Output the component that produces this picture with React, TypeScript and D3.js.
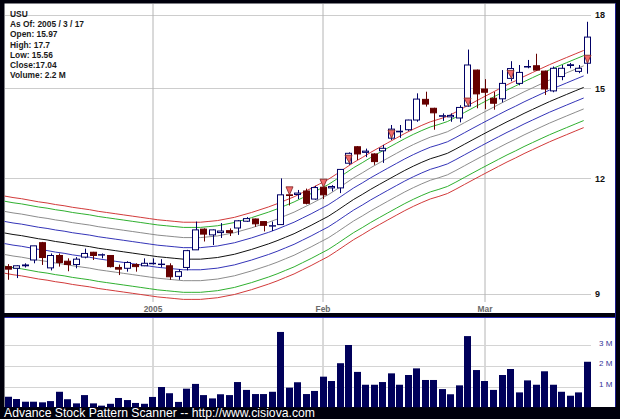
import React from "react";
import * as d3 from "d3";

const SYMBOL = "USU";
const DEC_2004_DAYS = [8, 9, 10, 13, 14, 15, 16, 17, 20, 21, 22, 23, 27, 28, 29, 30, 31];
const JAN_2005_DAYS = [3, 4, 5, 6, 7, 10, 11, 12, 13, 14, 18, 19, 20, 21, 24, 25, 26, 27, 28, 31];
const FEB_2005_DAYS = [1, 2, 3, 4, 7, 8, 9, 10, 11, 14, 15, 16, 17, 18, 22, 23, 24, 25, 28];
const MAR_2005_DAYS = [1, 2, 3, 4, 7, 8, 9, 10, 11, 14, 15, 16, 17];

const OPEN = [9.64, 9.60, 9.66, 9.80, 10.23, 9.61, 9.91, 9.77, 9.69, 9.87,
  9.99, 9.92, 9.91, 9.62, 9.60, 9.69, 9.66, 9.71, 9.69, 9.66,
  9.41, 9.62, 10.05, 10.58, 10.43, 10.49, 10.54, 10.61, 10.79, 10.85,
  10.78, 10.66, 10.70, 11.52, 11.53, 11.63, 11.40, 11.74, 11.72, 11.72,
  12.46, 12.98, 12.80, 12.75, 12.85, 13.26, 13.47, 13.54, 13.87, 14.60,
  14.28, 14.00, 13.98, 13.94, 14.36, 15.70, 14.98, 14.64, 14.62, 15.38,
  15.19, 15.82, 15.87, 15.66, 14.91, 15.45, 15.88, 15.65, 15.97];
const HIGH = [9.70, 9.67, 9.72, 10.15, 10.25, 9.96, 9.96, 9.84, 9.87, 10.08,
  10.00, 9.96, 9.92, 9.69, 9.77, 9.72, 9.84, 9.84, 9.82, 9.72,
  9.58, 10.05, 10.78, 10.60, 10.57, 10.74, 10.60, 10.82, 10.90, 10.86,
  10.79, 10.78, 12.00, 11.71, 11.66, 11.70, 11.78, 11.76, 11.80, 12.28,
  12.80, 13.00, 12.92, 12.77, 13.04, 13.70, 13.70, 13.88, 14.82, 14.88,
  14.30, 14.10, 14.10, 14.39, 16.52, 15.72, 15.35, 14.87, 15.70, 16.05,
  15.90, 16.10, 16.35, 15.68, 15.84, 15.90, 15.98, 15.90, 17.7];
const LOW = [9.33, 9.37, 9.62, 9.72, 9.68, 9.55, 9.64, 9.53, 9.60, 9.84,
  9.80, 9.84, 9.62, 9.44, 9.52, 9.52, 9.65, 9.69, 9.62, 9.33,
  9.33, 9.55, 10.05, 10.26, 10.17, 10.35, 10.40, 10.43, 10.77, 10.64,
  10.52, 10.53, 10.70, 11.22, 11.40, 11.25, 11.38, 11.40, 11.62, 11.57,
  12.41, 12.56, 12.65, 12.41, 12.47, 13.20, 13.27, 13.50, 13.81, 14.34,
  13.54, 13.84, 13.81, 13.79, 14.34, 14.28, 14.25, 14.23, 14.49, 15.27,
  15.12, 15.77, 15.68, 14.76, 14.86, 15.31, 15.77, 15.58, 15.56];
const CLOSE = [9.58, 9.66, 9.68, 10.15, 9.86, 9.91, 9.74, 9.69, 9.82, 9.96,
  9.91, 9.93, 9.64, 9.58, 9.74, 9.64, 9.72, 9.72, 9.70, 9.40,
  9.52, 10.03, 10.56, 10.45, 10.56, 10.53, 10.49, 10.80, 10.86, 10.72,
  10.68, 10.67, 11.52, 11.50, 11.57, 11.28, 11.73, 11.52, 11.76, 12.27,
  12.77, 12.75, 12.84, 12.51, 12.93, 13.56, 13.49, 13.87, 14.61, 14.43,
  14.12, 14.02, 14.03, 14.31, 15.90, 14.80, 14.86, 14.46, 15.19, 15.76,
  15.61, 15.84, 15.70, 14.98, 15.77, 15.77, 15.91, 15.77, 17.04];
const VOLUME_M = [0.51, 0.40, 0.27, 0.27, 0.24, 0.30, 0.75, 0.39, 0.19, 0.59,
  0.19, 0.08, 0.17, 0.45, 0.35, 0.21, 0.17, 0.50, 0.98, 0.68,
  0.26, 0.90, 1.13, 0.59, 0.43, 0.63, 0.59, 1.22, 0.84, 0.64,
  0.64, 0.75, 3.64, 0.95, 1.21, 0.64, 0.79, 1.48, 1.27, 2.13,
  3.01, 1.71, 1.09, 1.09, 1.22, 1.64, 1.09, 1.56, 1.88, 1.32,
  1.32, 0.88, 0.63, 1.06, 3.44, 1.80, 1.27, 0.84, 1.56, 1.85,
  0.72, 1.30, 1.09, 1.74, 1.09, 0.75, 0.56, 0.72, 2.20];
const MA_CENTER = [10.48, 10.44, 10.41, 10.37, 10.33, 10.30, 10.26, 10.23, 10.19, 10.16,
  10.13, 10.09, 10.06, 10.03, 10.00, 9.97, 9.94, 9.91, 9.88, 9.86,
  9.84, 9.82, 9.82, 9.82, 9.84, 9.86, 9.90, 9.94, 10.00, 10.06,
  10.13, 10.20, 10.28, 10.37, 10.46, 10.57, 10.68, 10.80, 10.92, 11.07,
  11.23, 11.39, 11.53, 11.68, 11.82, 11.96, 12.10, 12.24, 12.37, 12.49,
  12.60, 12.68, 12.77, 12.91, 13.06, 13.21, 13.36, 13.51, 13.66, 13.81,
  13.95, 14.10, 14.24, 14.38, 14.52, 14.65, 14.78, 14.91, 15.04];
const BAND_FACTORS = [1.096, 1.082, 1.055, 1.029, 1.0, 0.974, 0.948, 0.921, 0.905];
const BAND_COLORS = ["#d23a3a", "#2fb02f", "#8c8c8c", "#3434b8", "#111111", "#3434b8", "#8c8c8c", "#2fb02f", "#d23a3a"];
const SIGNAL_INDEXES = [33, 37, 40, 45, 54, 59, 68];
const PRICE_TICKS = [9, 12, 15, 18];
const VOLUME_TICKS = [1, 2, 3];
const MONTH_TICKS = [
  { date: "2005-01-03", label: "2005" },
  { date: "2005-02-01", label: "Feb" },
  { date: "2005-03-01", label: "Mar" },
];
const FOOTER = "Advance Stock Pattern Scanner -- http://www.cisiova.com";

const pad = (n: number) => (n < 10 ? "0" + n : "" + n);
const DATES: string[] = [
  ...DEC_2004_DAYS.map((d) => `2004-12-${pad(d)}`),
  ...JAN_2005_DAYS.map((d) => `2005-01-${pad(d)}`),
  ...FEB_2005_DAYS.map((d) => `2005-02-${pad(d)}`),
  ...MAR_2005_DAYS.map((d) => `2005-03-${pad(d)}`),
];

const FONT = "'Liberation Sans', Arial, Helvetica, sans-serif";
const UP = "#000066";
const DOWN = "#660000";

export default function App() {
  const W = 620;
  const H = 419;
  const x = d3.scaleBand<string>().domain(DATES).range([4.5, 591]).paddingInner(0.14).paddingOuter(0);
  const bw = x.bandwidth();
  const y = d3.scaleLog().domain([9, 18]).range([294.3, 15]);
  const yv = d3.scaleLinear().domain([0, 3]).range([407.3, 345.2]);

  const last = DATES.length - 1;
  const [ly, lm, ld] = DATES[last].split("-").map(Number);
  const legend = [
    SYMBOL,
    `As Of: ${ly} / ${lm} / ${ld}`,
    `Open: ${OPEN[last]}`,
    `High: ${HIGH[last]}`,
    `Low: ${LOW[last]}`,
    `Close:${CLOSE[last]}`,
    `Volume: ${VOLUME_M[last]} M`,
  ];

  const lineGen = (factor: number) =>
    d3
      .line<number>()
      .x((_, i) => x(DATES[i]) as number)
      .y((v) => y(v * factor))(MA_CENTER) as string;

  const cx = (i: number) => Math.round((x(DATES[i]) as number) + bw / 2) + 0.5;

  return (
    <div style={{ position: "absolute", left: 0, top: 0 }}>
      <svg width={W} height={H} style={{ display: "block" }} fontFamily={FONT}>
        <rect x={0} y={0} width={W} height={H} fill="#00000c" />
        {/* price panel */}
        <rect x={4.5} y={3.5} width={610.5} height={309.5} fill="#ffffff" />
        {/* volume panel */}
        <rect x={4.5} y={318} width={610.5} height={89} fill="#ffffff" />
        <line x1={4.5} x2={615.5} y1={317.5} y2={317.5} stroke="#2a2ab4" strokeWidth={1} />
        <line x1={615.5} x2={615.5} y1={3} y2={407} stroke="#1c1c8c" strokeWidth={1} />

        {/* price grid */}
        {PRICE_TICKS.map((t) => (
          <g key={"pt" + t}>
            <line x1={5} x2={591} y1={Math.round(y(t)) + 0.5} y2={Math.round(y(t)) + 0.5} stroke="#cdcdcd" />
            <text x={595} y={y(t)} dy="0.35em" fontSize={9} fontWeight="bold" fill="#111">
              {t}
            </text>
          </g>
        ))}
        {/* month grid */}
        {MONTH_TICKS.map((m) => {
          const i = DATES.indexOf(m.date);
          const px = cx(i) - 0.5;
          return (
            <g key={m.label}>
              <line x1={px} x2={px} y1={4} y2={302} stroke="#b4b4b4" />
              <line x1={px} x2={px} y1={318} y2={407} stroke="#b4b4b4" />
              <text x={px} y={311.5} textAnchor="middle" fontSize={8.4} fontWeight="bold" fill="#6a6a6a">
                {m.label}
              </text>
            </g>
          );
        })}
        {/* volume grid */}
        {VOLUME_TICKS.map((t) => (
          <g key={"vt" + t}>
            <line x1={5} x2={591} y1={Math.round(yv(t)) + 0.5} y2={Math.round(yv(t)) + 0.5} stroke="#d4d4d4" />
            <text x={599} y={yv(t) + 0.5} fontSize={8} fill="#333399">
              {t} M
            </text>
          </g>
        ))}

        {/* envelope lines */}
        {BAND_FACTORS.map((f, k) => (
          <path key={"band" + k} d={lineGen(f)} fill="none" stroke={BAND_COLORS[k]} strokeWidth={1} />
        ))}

        {/* candles */}
        {DATES.map((d, i) => {
          const o = OPEN[i];
          const c = CLOSE[i];
          const up = c >= o;
          const col = up ? UP : DOWN;
          const left = x(d) as number;
          const top = y(Math.max(o, c));
          const bot = y(Math.min(o, c));
          const xc = cx(i);
          return (
            <g key={d}>
              <line x1={xc} x2={xc} y1={y(HIGH[i])} y2={y(LOW[i])} stroke={col} strokeWidth={1} />
              <rect
                x={Math.round(left) + 0.5}
                y={top}
                width={Math.round(bw) - 1}
                height={Math.max(0.01, bot - top)}
                fill={up ? "#ffffff" : DOWN}
                stroke={col}
                strokeWidth={1}
              />
            </g>
          );
        })}

        {/* signal triangles */}
        {SIGNAL_INDEXES.map((i) => {
          const left = Math.round(x(DATES[i]) as number);
          const yo = y(OPEN[i]);
          const xc = cx(i);
          const pts = `${left},${yo - 8} ${left + Math.round(bw)},${yo - 8} ${xc},${yo}`;
          return <polygon key={"sig" + i} points={pts} fill="#f06a6a" stroke="#7a2020" strokeWidth={0.8} />;
        })}

        {/* volume bars */}
        {DATES.map((d, i) => (
          <rect
            key={"v" + d}
            x={Math.round(x(d) as number)}
            y={yv(VOLUME_M[i])}
            width={Math.round(bw)}
            height={yv(0) - yv(VOLUME_M[i])}
            fill="#00005a"
          />
        ))}

        {/* legend */}
        {legend.map((s, k) => (
          <text key={"lg" + k} x={10} y={17 + k * 10.2} fontSize={8.4} fontWeight="bold" fill="#1a1a1a">
            {s}
          </text>
        ))}

        {/* footer */}
        <text x={4} y={417.3} fontSize={12.2} fill="#ffffff">
          {FOOTER}
        </text>
      </svg>
    </div>
  );
}
